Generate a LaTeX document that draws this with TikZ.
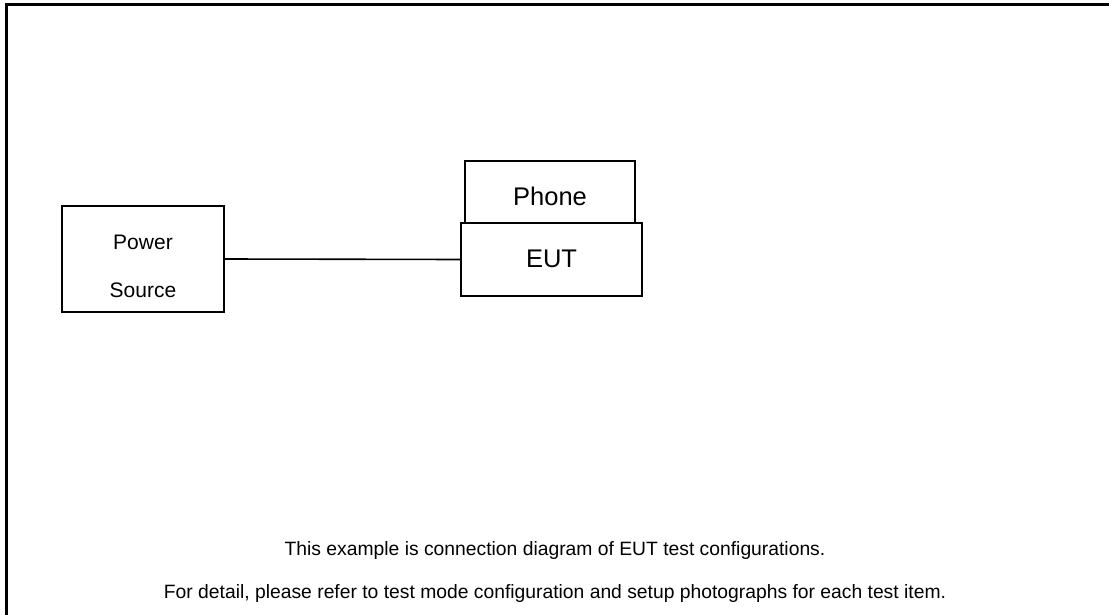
\documentclass[tikz,border=0pt]{standalone}
\usepackage{fontspec}
\setmainfont{Liberation Sans}
\begin{document}
\begin{tikzpicture}[x=1pt,y=-1pt,
  box/.style={draw, line width=1.4pt, inner sep=0pt},
  lbl/.style={inner sep=0pt, anchor=base},
  note/.style={inner sep=0pt, anchor=base, font=\fontsize{19.3}{22}\selectfont}]
\useasboundingbox (0,0) rectangle (1109,615);
% outer frame (continues beyond right and bottom edges)
\draw[line width=3pt] (6,640) -- (6,5) -- (1130,5);
% boxes
\node[box, minimum width=162pt, minimum height=106pt] (ps) at (143,259) {};
\node[box, minimum width=170pt, minimum height=62pt] (phone) at (550,192) {};
\node[box, minimum width=181pt, minimum height=73pt] (eut) at (551.5,259.5) {};
% labels
\node[lbl, font=\fontsize{21}{24}\selectfont] (pw) at (143,249) {Power};
\node[lbl, font=\fontsize{21}{24}\selectfont] (src) at (143,297) {Source};
\node[lbl, font=\fontsize{25.5}{28}\selectfont] (phl) at (550,205) {Phone};
\node[lbl, font=\fontsize{25.5}{28}\selectfont] (eutl) at (551.5,267) {EUT};
% connector
\draw[line width=1.6pt] (ps.east) -- (eut.west);
% notes
\node[note] (n1) at (555,555) {This example is connection diagram of EUT test configurations.};
\node[note] (n2) at (555,598) {For detail, please refer to test mode configuration and setup photographs for each test item.};
\end{tikzpicture}
\end{document}
